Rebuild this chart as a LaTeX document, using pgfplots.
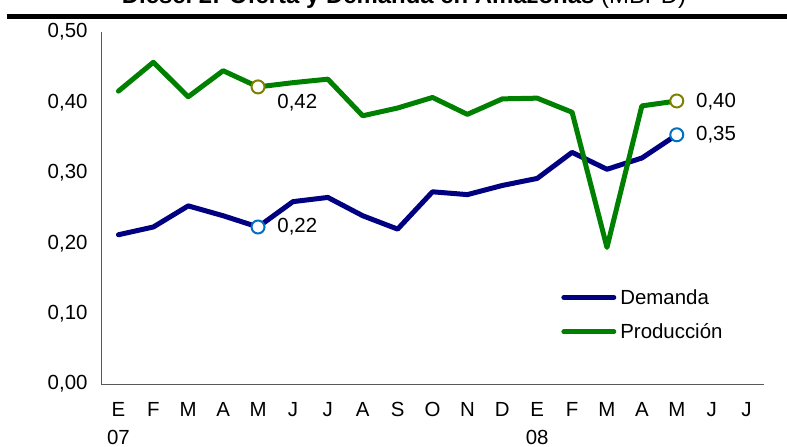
\documentclass[border=0pt]{standalone}
\usepackage{pgfplots}
\pgfplotsset{compat=1.18}
\usepackage{fontspec}
\setmainfont{Liberation Sans}
\definecolor{dem}{HTML}{000080}
\definecolor{prod}{HTML}{008000}
\definecolor{demm}{HTML}{0070C0}
\definecolor{prodm}{HTML}{808000}
\newcommand{\mm}[1]{\vphantom{OSJ}#1}
\begin{document}
\begin{tikzpicture}[x=1bp,y=1bp]
\useasboundingbox (0,0) rectangle (787,447);
\node[anchor=base, inner sep=0pt, font=\fontsize{24}{28}\selectfont] at (404,443) {\textbf{Diesel 2: Oferta y Demanda en Amazonas} (MBPD)};
\draw[line width=5bp] (7,430) -- (787,430);
\begin{axis}[
  at={(101bp,63bp)}, anchor=south west, scale only axis,
  width=663bp, height=352bp,
  xmin=-0.5, xmax=18.5, ymin=0, ymax=0.5,
  axis x line=bottom, axis y line=left,
  axis line style={-, draw=black!65, line width=0.8bp},
  major tick length=0pt,
  xtick={0,...,18},
  xticklabels={\mm{E}\\07,\mm{F},\mm{M},\mm{A},\mm{M},\mm{J},\mm{J},\mm{A},\mm{S},\mm{O},\mm{N},\mm{D},\mm{E}\\08,\mm{F},\mm{M},\mm{A},\mm{M},\mm{J},\mm{J}},
  xticklabel style={align=center, font=\fontsize{20.5}{27.5}\selectfont, yshift=-15bp},
  ytick={0,0.1,0.2,0.3,0.4,0.5},
  yticklabel style={font=\fontsize{20.5}{24}\selectfont, xshift=-10bp},
  /pgf/number format/.cd, use comma, fixed, fixed zerofill, precision=2, assume math mode=true,
  /pgfplots/.cd,
  legend style={draw=none, fill=none, at={(0.694,0.197)}, anchor=west,
    font=\fontsize{20.5}{24}\selectfont, inner sep=0pt, row sep=14bp},
  legend cell align=left,
  clip=false,
]
\addplot[dem, line width=5bp, line join=round, line cap=round,
  legend image code/.code={\draw[dem, line width=5bp, line cap=round] (0bp,0bp) -- (50bp,0bp); \path (52bp,0bp);}]
  coordinates {(0,0.212) (1,0.223) (2,0.253) (3,0.239) (4,0.223) (5,0.259) (6,0.265) (7,0.239) (8,0.220) (9,0.273) (10,0.269) (11,0.282) (12,0.292) (13,0.329) (14,0.305) (15,0.321) (16,0.354)};
\addlegendentry{Demanda}
\addplot[prod, line width=5bp, line join=round, line cap=round,
  legend image code/.code={\draw[prod, line width=5bp, line cap=round] (0bp,0bp) -- (50bp,0bp); \path (52bp,0bp);}]
  coordinates {(0,0.416) (1,0.457) (2,0.408) (3,0.445) (4,0.422) (5,0.428) (6,0.433) (7,0.381) (8,0.392) (9,0.407) (10,0.383) (11,0.405) (12,0.406) (13,0.386) (14,0.194) (15,0.395) (16,0.402)};
\addlegendentry{Producción}
\addplot[only marks, mark=*, mark size=6.5bp, mark options={fill=white, draw=demm, line width=2bp}, forget plot]
  coordinates {(4,0.223) (16,0.354)};
\addplot[only marks, mark=*, mark size=6.5bp, mark options={fill=white, draw=prodm, line width=2bp}, forget plot]
  coordinates {(4,0.422) (16,0.402)};
\node[anchor=west, inner sep=0pt, font=\fontsize{20.5}{24}\selectfont] at (axis cs:4.55,0.223) {0,22};
\node[anchor=west, inner sep=0pt, font=\fontsize{20.5}{24}\selectfont] at (axis cs:4.55,0.400) {0,42};
\node[anchor=west, inner sep=0pt, font=\fontsize{20.5}{24}\selectfont] at (axis cs:16.55,0.401) {0,40};
\node[anchor=west, inner sep=0pt, font=\fontsize{20.5}{24}\selectfont] at (axis cs:16.55,0.354) {0,35};
\end{axis}
\end{tikzpicture}
\end{document}
